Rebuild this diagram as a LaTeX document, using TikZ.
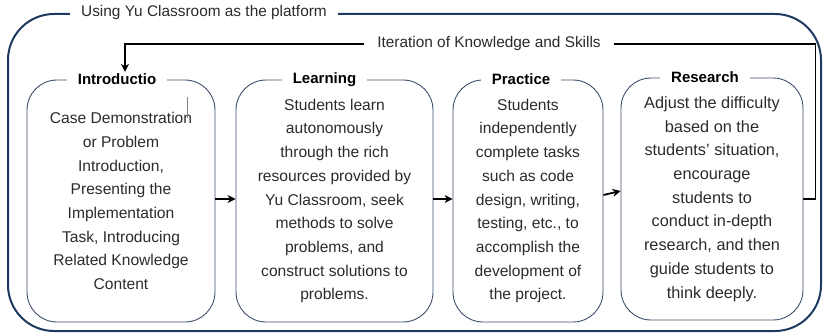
\documentclass[tikz,border=0pt]{standalone}
\usepackage{fontspec}
\setmainfont{Liberation Sans}
\usetikzlibrary{arrows.meta,backgrounds}

\definecolor{azulmarco}{HTML}{1F3A60}
\definecolor{grisborde}{HTML}{3E4F6A}
\definecolor{texto}{HTML}{2B2B2B}

\tikzset{
  caja/.style={draw=grisborde, line width=0.9pt, rounded corners=30pt, align=center,
    text=texto, font=\fontsize{15.6}{23.7}\selectfont},
  titulo/.style={fill=white, inner xsep=11pt, inner ysep=2pt,
    font=\bfseries\fontsize{15}{17}\selectfont},
  etiqueta/.style={fill=white, inner xsep=11pt, inner ysep=2pt, text=texto,
    font=\fontsize{15.4}{17}\selectfont},
  flecha/.style={-{Stealth[length=8pt,width=8pt]}, line width=1.8pt, black},
}

\begin{document}
\begin{tikzpicture}[x=1pt,y=-1pt]
  \useasboundingbox (0,0) rectangle (824,334);

  % Cajas de las cuatro etapas
  \node[caja, minimum width=188pt, minimum height=242pt] (intro) at (121,201)
    {Case Demonstration\\ or Problem\\ Introduction,\\ Presenting the\\
     Implementation\\ Task, Introducing\\ Related Knowledge\\ Content};
  \node[caja, minimum width=197pt, minimum height=242pt] (learning) at (334.5,201)
    {Students learn\\ autonomously\\ through the rich\\ resources provided by\\
     Yu Classroom, seek\\ methods to solve\\ problems, and\\
     construct solutions to\\ problems.};
  \node[caja, minimum width=150pt, minimum height=242pt] (practice) at (528,201)
    {Students\\ independently\\ complete tasks\\ such as code\\ design, writing,\\
     testing, etc., to\\ accomplish the\\ development of\\ the project.};
  \node[caja, minimum width=182pt, minimum height=242pt,
    font=\fontsize{16.3}{23.7}\selectfont] (research) at (712,199)
    {Adjust the difficulty\\ based on the\\ students' situation,\\ encourage\\
     students to\\ conduct in-depth\\ research, and then\\ guide students to\\
     think deeply.};

  % Titulos sobre el borde de cada caja
  \node[titulo] (introtit) at ([xshift=-4pt]intro.north) {Introductio};
  \node[titulo] (learningtit) at ([xshift=-10pt]learning.north) {Learning};
  \node[titulo] (practicetit) at ([xshift=-7pt]practice.north) {Practice};
  \node[titulo] (researchtit) at ([xshift=-7pt]research.north) {Research};

  % Marco exterior y su rotulo
  \node[etiqueta] (plataforma) at (204,13) {Using Yu Classroom as the platform};
  \node[etiqueta, inner xsep=13pt] (iteracion) at (489,44) {Iteration of Knowledge and Skills};
  \coordinate (giro) at (125,44);

  \begin{scope}[on background layer]
    \draw[azulmarco, line width=2pt, rounded corners=46pt] (8,14) rectangle (821,331);
    % Lazo de iteracion
    \draw[flecha] (research.east) -- ++(12,0) |- (giro) -- (giro |- introtit.north);
  \end{scope}

  % Flechas entre etapas
  \draw[flecha] ([yshift=2pt]intro.east) -- ([yshift=2pt]learning.west);
  \draw[flecha] ([yshift=2pt]learning.east) -- ([yshift=2pt]practice.west);
  \draw[flecha] ([yshift=6pt]practice.east) -- ([yshift=8pt]research.west);

  \draw[gray, line width=0.5pt] (187,97) -- (187,118); % marca suelta
\end{tikzpicture}
\end{document}
